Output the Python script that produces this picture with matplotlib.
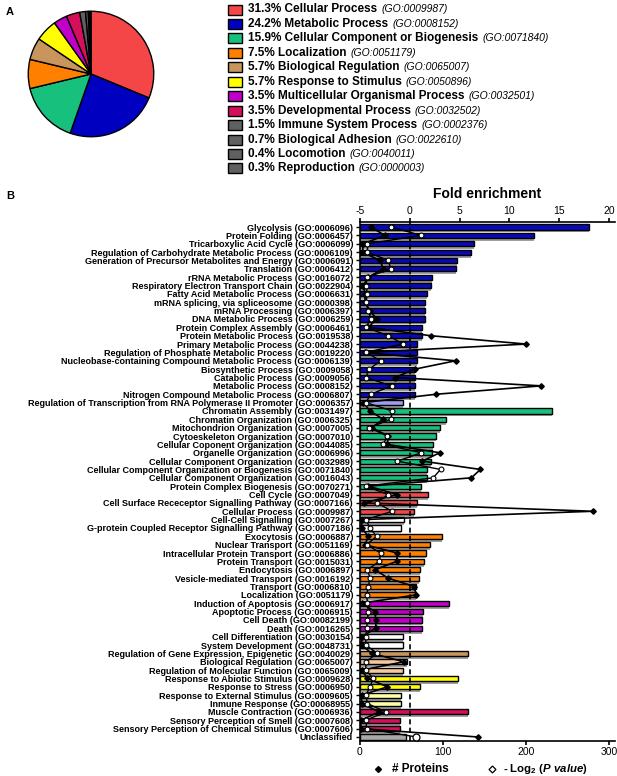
import matplotlib
matplotlib.use("Agg")
import matplotlib.pyplot as plt
import numpy as np
from matplotlib.patches import Rectangle
from matplotlib.lines import Line2D

plt.rcParams['font.family'] = 'Liberation Sans'
plt.rcParams['axes.unicode_minus'] = False
plt.rcParams['mathtext.fontset'] = 'custom'
plt.rcParams['mathtext.rm'] = 'Liberation Sans:bold'
plt.rcParams['mathtext.bf'] = 'Liberation Sans:bold'
plt.rcParams['mathtext.it'] = 'Liberation Sans:italic:bold'

# ---- panel A data ----
pie_pct = [31.3, 24.2, 15.9, 7.5, 5.7, 5.7, 3.5, 3.5, 1.5, 0.7, 0.4, 0.3]
pie_names = ["Cellular Process", "Metabolic Process", "Cellular Component or Biogenesis",
             "Localization", "Biological Regulation", "Response to Stimulus",
             "Multicellular Organismal Process", "Developmental Process",
             "Immune System Process", "Biological Adhesion", "Locomotion", "Reproduction"]
pie_go = ["GO:0009987", "GO:0008152", "GO:0071840", "GO:0051179", "GO:0065007", "GO:0050896",
          "GO:0032501", "GO:0032502", "GO:0002376", "GO:0022610", "GO:0040011", "GO:0000003"]
pie_colors = ['#f44646', '#0000c0', '#18c07e', '#ff8000', '#c8965c', '#ffff00',
              '#c000c8', '#d4105c', '#606060', '#606060', '#606060', '#606060']

# ---- panel B data ----
labels = [
    "Glycolysis (GO:0006096)", "Protein Folding (GO:0006457)", "Tricarboxylic Acid Cycle (GO:0006099)",
    "Regulation of Carbohydrate Metabolic Process (GO:0006109)",
    "Generation of Precursor Metabolites and Energy (GO:0006091)", "Translation (GO:0006412)",
    "rRNA Metabolic Process (GO:0016072)", "Respiratory Electron Transport Chain (GO:0022904)",
    "Fatty Acid Metabolic Process (GO:0006631)", "mRNA splicing, via spliceosome (GO:0000398)",
    "mRNA Processing (GO:0006397)", "DNA Metabolic Process (GO:0006259)",
    "Protein Complex Assembly (GO:0006461)", "Protein Metabolic Process (GO:0019538)",
    "Primary Metabolic Process (GO:0044238)", "Regulation of Phosphate Metabolic Process (GO:0019220)",
    "Nucleobase-containing Compound Metabolic Process (GO:0006139)", "Biosynthetic Process (GO:0009058)",
    "Catabolic Process (GO:0009056)", "Metabolic Process (GO:0008152)",
    "Nitrogen Compound Metabolic Process (GO:0006807)",
    "Regulation of Transcription from RNA Polymerase II Promoter (GO:0006357)",
    "Chromatin Assembly (GO:0031497)", "Chromatin Organization (GO:0006325)",
    "Mitochondrion Organization (GO:0007005)", "Cytoeskeleton Organization (GO:0007010)",
    "Cellular Coponent Organization (GO:0044085)", "Organelle Organization (GO:0006996)",
    "Cellular Component Organization (GO:0032989)",
    "Cellular Component Organization or Biogenesis (GO:0071840)",
    "Cellular Component Organization (GO:0016043)", "Protein Complex Biogenesis (GO:0070271)",
    "Cell Cycle (GO:0007049)", "Cell Surface Receceptor Signalling Pathway (GO:0007166)",
    "Cellular Process (GO:0009987)", "Cell-Cell Signalling (GO:0007267)",
    "G-protein Coupled Receptor Signalling Pathway (GO:0007186)", "Exocytosis (GO:0006887)",
    "Nuclear Transport (GO:0051169)", "Intracellular Protein Transport (GO:0006886)",
    "Protein Transport (GO:0015031)", "Endocytosis (GO:0006897)",
    "Vesicle-mediated Transport (GO:0016192)", "Transport (GO:0006810)",
    "Localization (GO:0051179)", "Induction of Apoptosis (GO:0006917)",
    "Apoptotic Process (GO:0006915)", "Cell Death (GO:00082199)", "Death (GO:0016265)",
    "Cell Differentiation (GO:0030154)", "System Development (GO:0048731)",
    "Regulation of Gene Expression, Epigenetic (GO:0040029)", "Biological Regulation (GO:0065007)",
    "Regulation of Molecular Function (GO:0065009)", "Response to Abiotic Stimulus (GO:0009628)",
    "Response to Stress (GO:0006950)", "Response to External Stimulus (GO:0009605)",
    "Inmune Response (GO:00068955)", "Muscle Contraction (GO:0006936)",
    "Sensory Perception of Smell (GO:0007608)",
    "Sensory Perception of Chemical Stimulus (GO:0007606)", "Unclassified"]

fold = [18.0, 12.5, 6.45, 6.1, 4.75, 4.6, 2.27, 2.1, 1.77, 1.57, 1.57, 1.57, 1.24, 1.24,
        0.74, 0.74, 0.74, 0.57, 0.57, 0.57, 0.5, -0.67,
        14.3, 3.68, 3.04, 2.68, 2.34, 2.27, 2.17, 1.77, 1.77, 1.17,
        1.84, 0.77, 0.43, -0.6, -0.9,
        3.28, 2.0, 1.6, 1.44, 1.07, 0.94, 0.6, 0.6,
        3.95, 1.34, 1.24, 1.18, -0.7, -0.7, 5.87, -0.3, -0.7,
        4.8, 0.98, -0.9, -0.9, 5.8, -1.0, -1.0, -0.4]

proteins = [13, 30, 4, 3, 24, 28, 10, 4, 6, 6, 12, 20, 10, 85, 200, 6, 115, 66, 42, 218, 92, 4,
            12, 28, 14, 34, 33, 96, 75, 145, 134, 10,
            45, 5, 280, 2, 2,
            10, 6, 45, 44, 18, 34, 65, 68,
            2, 18, 19, 19, 2, 2, 14, 53, 2,
            9, 33, 2, 2, 23, 1, 1, 142]

pval = [37, 74, 9, 9, 34, 37, 9, 7, 9, 7, 10, 13, 7, 34, 52, 7, 25, 11, 7, 38, 13, 7,
        39, 37, 11, 33, 28, 74, 45, 97, 88, 7,
        34, 20, 39, 7, 12,
        20, 8, 25, 23, 9, 12, 10, 8,
        9, 10, 9, 8, 7, 7, 21, 7, 7,
        16, 12, 7, 9, 31, 7, 8, 68]

# bar colours, group by group
groups = [('#0a0ab4', 21), ('#9c9cf0', 1), ('#18c07e', 10), ('#f04848', 3), ('white', 2),
          ('#ff8000', 8), ('#c000c8', 4), ('white', 2), ('#c8965c', 1), ('#f8c89a', 2),
          ('#ffff00', 2), ('#ffffa8', 2), ('#d4105c', 3), ('#a8a8a8', 1)]
row_colors = []
for c, n in groups:
    row_colors += [c] * n

W, H = 617, 776
fig = plt.figure(figsize=(W / 100, H / 100), dpi=100)


def px(x0, y0, x1, y1):
    return [x0 / W, 1 - y1 / H, (x1 - x0) / W, (y1 - y0) / H]


# ---------------- A: pie ----------------
fig.text(6 / W, 1 - 12 / H, "A", fontsize=8, fontweight='bold', va='center')
ax_pie = fig.add_axes(px(27, 10, 155, 138))
ax_pie.pie(pie_pct, colors=pie_colors, startangle=90, counterclock=False,
           wedgeprops=dict(edgecolor='black', linewidth=1))
ax_pie.set_xlim(-1.02, 1.02)
ax_pie.set_ylim(-1.02, 1.02)

renderer = fig.canvas.get_renderer()
for i in range(len(pie_pct)):
    yc = 9.5 + i * 14.45
    fig.add_artist(Rectangle((228 / W, 1 - (yc + 5) / H), 14 / W, 10 / H,
                             transform=fig.transFigure, facecolor=pie_colors[i],
                             edgecolor='black', linewidth=1))
    t = fig.text(248 / W, 1 - yc / H, f"{pie_pct[i]}% {pie_names[i]}", fontsize=8.5,
                 fontweight='bold', va='center')
    x1 = t.get_window_extent(renderer).x1
    fig.text((x1 + 4) / W, 1 - yc / H, f"({pie_go[i]})", fontsize=7.5,
             style='italic', va='center')

# ---------------- B: bars + lines ----------------
fig.text(6 / W, 1 - 196 / H, "B", fontsize=8, fontweight='bold', va='center')
fig.text(487 / W, 1 - 194 / H, "Fold enrichment", fontsize=10, fontweight='bold',
         ha='center', va='center')

ax = fig.add_axes(px(360, 221.5, 615, 740.5))
axf = ax.twiny()
ax.set_zorder(axf.get_zorder() + 1)
ax.patch.set_visible(False)

y = np.arange(len(labels))
fold = np.array(fold)
axf.barh(y + 0.3, fold + 5, left=-5, height=0.7, color='#a0a0a0', edgecolor='none', zorder=1)
axf.barh(y, fold + 5, left=-5, height=0.62, color=row_colors, edgecolor='black',
         linewidth=1.0, zorder=2)
axf.axvline(0, color='black', ls=(0, (3, 2)), lw=1.2, zorder=3)
axf.set_xlim(-5, 20.6)
axf.set_xticks([-5, 0, 5, 10, 15, 20])

ax.plot(proteins, y, color='black', lw=1.2, marker='D', ms=2.8, mfc='black', mec='black', zorder=5)
ax.plot(pval, y, color='black', lw=1.0, marker='o', ms=3.5, mfc='white', mec='black',
        mew=0.8, zorder=6)
ax.plot(pval[-1], y[-1], marker='o', ms=5, mfc='white', mec='black', mew=0.9, zorder=7)
ax.set_xlim(0, 307)
ax.set_xticks([0, 100, 200, 300])
ax.set_ylim(len(labels) - 1 + 0.42, -0.66)
ax.set_yticks(y)
ax.set_yticklabels(labels, fontsize=6.5, fontweight='bold')

for s in ['top', 'right']:
    ax.spines[s].set_visible(False)
for s in ['bottom', 'left', 'right']:
    axf.spines[s].set_visible(False)
for sp in list(ax.spines.values()) + list(axf.spines.values()):
    sp.set_linewidth(1.2)
ax.tick_params(axis='y', length=3, width=1, pad=2)
ax.tick_params(axis='x', length=3, width=1.2, labelsize=7.5, pad=2)
axf.tick_params(axis='x', length=3, width=1.2, labelsize=7.5, pad=1)

# bottom legend
fig.add_artist(Line2D([378 / W], [1 - 769 / H], marker='D', ms=3, color='black',
                      transform=fig.transFigure))
fig.text(392 / W, 1 - 769 / H, "# Proteins", fontsize=8.5, fontweight='bold', va='center')
fig.add_artist(Line2D([492 / W], [1 - 769 / H], marker='D', ms=3.5, mfc='white', mec='black',
                      mew=0.9, transform=fig.transFigure))
fig.text(503 / W, 1 - 769 / H, r"- Log$_{2}$ ($\mathit{P\ value}$)", fontsize=8.2,
         fontweight='bold', va='center')

fig.savefig("out.png", dpi=100)
